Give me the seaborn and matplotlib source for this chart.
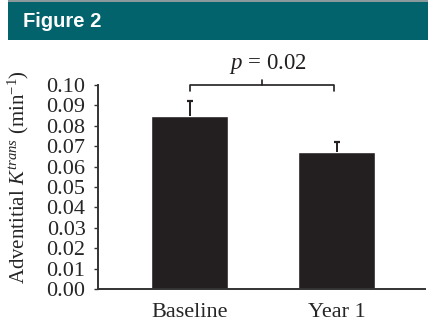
import matplotlib
matplotlib.use("Agg")
import matplotlib.pyplot as plt
import seaborn as sns
import pandas as pd
from matplotlib.patches import Rectangle
from matplotlib import font_manager

# Data
timepoints = ["Baseline", "Year 1"]
ktrans_mean = [0.085, 0.067]
ktrans_err = [0.007, 0.005]
y_ticks = [0.00, 0.01, 0.02, 0.03, 0.04, 0.05, 0.06, 0.07, 0.08, 0.09, 0.10]
p_text = "$p$ = 0.02"

sns.set_theme(style="ticks")
plt.rcParams["font.family"] = ["Liberation Serif", "DejaVu Serif"]
plt.rcParams["mathtext.fontset"] = "custom"
plt.rcParams["mathtext.rm"] = "Liberation Serif"
plt.rcParams["mathtext.it"] = "Liberation Serif:italic"

installed = {f.name for f in font_manager.fontManager.ttflist}
head_font = "Liberation Sans Narrow" if "Liberation Sans Narrow" in installed else "Liberation Sans"

bar_color = "#231f20"
df = pd.DataFrame({"time": timepoints, "ktrans": ktrans_mean})

fig = plt.figure(figsize=(4.28, 3.22), dpi=100)
fig.patch.set_facecolor("white")

# Header band
fig.patches.append(Rectangle((8 / 428, 1 - 40 / 322), 1, 38 / 322,
                             transform=fig.transFigure, facecolor="#02636c",
                             edgecolor="none", zorder=0))
fig.patches.append(Rectangle((8 / 428, 1 - 2 / 322), 1, 1.5 / 322,
                             transform=fig.transFigure, facecolor="#8a9a9c",
                             edgecolor="none", zorder=0))
fig.text(23 / 428, 1 - 21.5 / 322, "Figure 2", color="white",
         fontsize=16 if head_font.endswith("Narrow") else 14.5,
         fontweight="bold", family=head_font, va="center", ha="left")

ax = fig.add_axes([98 / 428, 33 / 322, (425 - 98) / 428, (289 - 85) / 322])
sns.barplot(data=df, x="time", y="ktrans", color=bar_color, saturation=1,
            width=0.524, errorbar=None, ax=ax)

# Upper error bars only
xs = list(range(len(timepoints)))
tops = [m + e for m, e in zip(ktrans_mean, ktrans_err)]
ax.vlines(xs, ktrans_mean, tops, color=bar_color, lw=1.4, zorder=3)
ax.plot(xs, tops, ls="none", marker="_", ms=4.5, mew=1.6, color=bar_color,
        zorder=3)

ax.set_xlim(-0.622, 1.6)
ax.set_ylim(0, 0.10)
ax.set_yticks(y_ticks)
ax.set_yticklabels([f"{v:.2f}" for v in y_ticks], fontsize=16)
ax.tick_params(axis="y", length=3, width=1, color="#333333", pad=6)
ax.tick_params(axis="x", length=0, labelsize=16, pad=10)
ax.set_xlabel("")
ax.set_ylabel("Adventitial $K^{trans}$ (min$^{-1}$)", fontsize=15)
ax.yaxis.set_label_coords(-0.206, 0.551)
for side in ["top", "right"]:
    ax.spines[side].set_visible(False)
for side in ["left", "bottom"]:
    ax.spines[side].set_linewidth(1.4)
    ax.spines[side].set_color("#333333")

# Significance bracket
x0, x1, xm = 0.0, 0.98, 0.49
yl, ye, yb = 0.100, 0.097, 0.1025
ax.plot([x0, x0, x1, x1], [ye, yl, yl, ye], color=bar_color, lw=1.2,
        clip_on=False, solid_joinstyle="round")
ax.plot([xm, xm], [yl, yb], color=bar_color, lw=1.2, clip_on=False)
ax.text(0.53, 0.1105, p_text, ha="center", va="center", fontsize=16.5,
        color=bar_color, clip_on=False)

fig.savefig("out.png", dpi=100)
